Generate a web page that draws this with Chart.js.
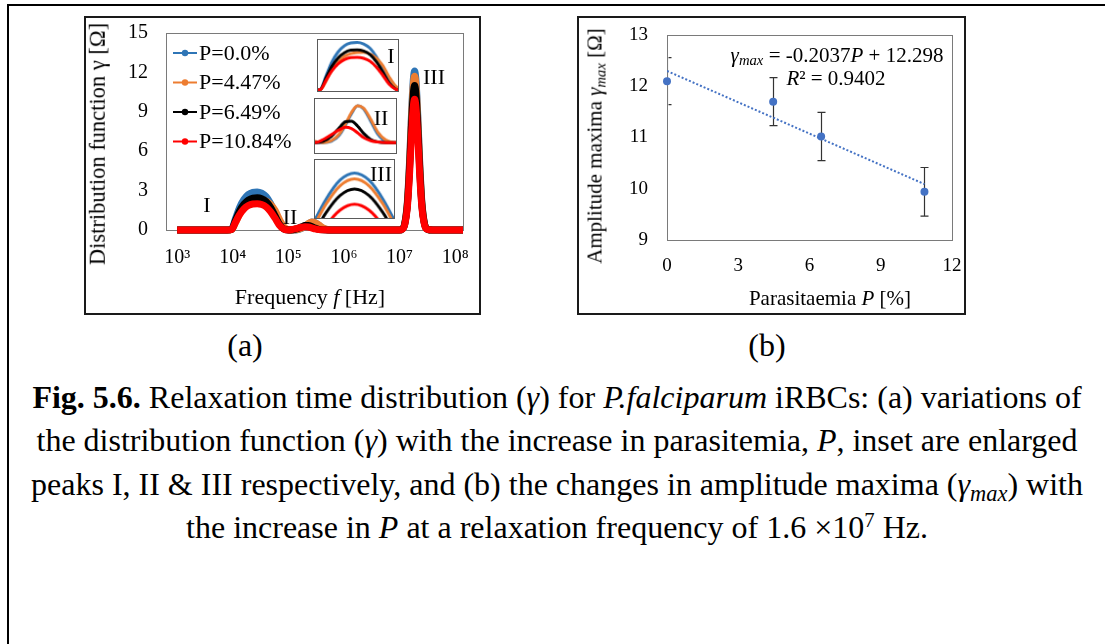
<!DOCTYPE html>
<html>
<head>
<meta charset="utf-8">
<script src="https://cdn.jsdelivr.net/npm/chart.js@4.4.0/dist/chart.umd.min.js"></script>
<style>
	html, body { margin: 0; padding: 0; background: #fff; }
	body { width: 1105px; height: 644px; position: relative; overflow: hidden; font-family: 'Liberation Serif', 'Times New Roman', serif; color: #000; }
	#frame { position: absolute; left: 7px; top: 4px; width: 1200px; height: 700px; border-top: 2px solid #000; border-left: 2px solid #000; }
	.panel { position: absolute; top: 16px; height: 299px; box-sizing: border-box; border: 2px solid #1a1a1a; }
	canvas { position: absolute; display: block; }
	.inset { box-sizing: border-box; border: 1px solid #5a5a5a; background: #fff; }
	.t { position: absolute; white-space: nowrap; line-height: 1; transform: translate(-50%, -50%); }
	.rot { transform: translate(-50%, -50%) rotate(-90deg); }
	.cap { position: absolute; left: 557px; font-size: 32px; white-space: nowrap; line-height: 1; transform: translate(-50%, -50%); }
	sub { font-size: 0.7em; vertical-align: -0.25em; line-height: 0; }
	sup { font-size: 0.65em; vertical-align: 0.55em; line-height: 0; }
</style>
</head>
<body>
<div id="frame"></div>

<div class="panel" style="left:84px; width:397px;"></div>
<div class="panel" style="left:577px; width:389px;"></div>

<canvas id="chart-a" width="393" height="295" style="left:86px; top:18px;"></canvas>
<canvas id="inset-1" class="inset" width="82" height="53" style="left:317px; top:39px;"></canvas>
<canvas id="inset-2" class="inset" width="83" height="56" style="left:314px; top:98px;"></canvas>
<canvas id="inset-3" class="inset" width="81" height="60" style="left:314px; top:159px;"></canvas>
<canvas id="chart-b" width="385" height="295" style="left:579px; top:18px;"></canvas>

<!-- panel (a) texts -->
<div class="t rot" style="left:98px; top:144px; font-size:22.5px;">Distribution function <span>γ</span> [Ω]</div>
<div class="t" style="left:310px; top:297px; font-size:22px;">Frequency <i>f</i> [Hz]</div>
<div class="t" style="left:207px; top:205px; font-size:22px;">I</div>
<div class="t" style="left:290px; top:217px; font-size:22px;">II</div>
<div class="t" style="left:434px; top:77px; font-size:22px;">III</div>
<div class="t" style="left:391px; top:56px; font-size:22px;">I</div>
<div class="t" style="left:381px; top:118px; font-size:22px;">II</div>
<div class="t" style="left:381px; top:174px; font-size:22px;">III</div>

<!-- panel (b) texts -->
<div class="t rot" style="left:595px; top:146px; font-size:21px;">Amplitude maxima <i>γ<sub>max</sub></i> [Ω]</div>
<div class="t" style="left:830px; top:298px; font-size:21px;">Parasitaemia <i>P</i> [%]</div>
<div class="t" style="left:837px; top:55px; font-size:21px;"><i>γ<sub>max</sub></i> = -0.2037<i>P</i> + 12.298</div>
<div class="t" style="left:836px; top:78px; font-size:21px;"><i>R</i>² = 0.9402</div>

<div class="t" style="left:245px; top:345px; font-size:32px;">(a)</div>
<div class="t" style="left:767px; top:345px; font-size:32px;">(b)</div>

<div class="cap" style="top:397px;"><b>Fig. 5.6.</b> Relaxation time distribution (<i>γ</i>) for <i>P.falciparum</i> iRBCs: (a) variations of</div>
<div class="cap" style="top:440px;">the distribution function (<i>γ</i>) with the increase in parasitemia, <i>P</i>, inset are enlarged</div>
<div class="cap" style="top:484px;">peaks I, II &amp; III respectively, and (b) the changes in amplitude maxima (<i>γ<sub>max</sub></i>) with</div>
<div class="cap" style="top:527px;">the increase in <i>P</i> at a relaxation frequency of 1.6 ×10<sup>7</sup> Hz.</div>

<script>
(function() {
	'use strict';

	// (a) distribution function, x = log10(frequency / Hz)
	const logFreq = [3.00, 3.50, 3.90,
		3.98, 4.05, 4.12, 4.20, 4.28, 4.36, 4.44, 4.52, 4.60, 4.68, 4.76, 4.84, 4.92,
		5.00, 5.08, 5.16, 5.24, 5.30, 5.36, 5.42, 5.48, 5.55, 5.62, 5.70, 5.80,
		6.20, 6.70, 7.00,
		7.04, 7.09, 7.14, 7.18, 7.21, 7.23, 7.25, 7.27, 7.29, 7.31, 7.33, 7.36, 7.40, 7.45, 7.50,
		7.60, 8.14];

	const gammaP0 = [0, 0, 0,
		0.06, 0.87, 1.68, 2.32, 2.70, 2.87, 2.90, 2.81, 2.55, 2.03, 1.31, 0.52, 0.09,
		0, 0, 0.02, 0.12, 0.28, 0.47, 0.60, 0.55, 0.35, 0.14, 0.02, 0,
		0, 0, 0,
		0.05, 0.45, 2.15, 5.29, 8.38, 10.27, 11.62, 12.10, 11.62, 10.27, 8.38, 5.29, 2.15, 0.45, 0.05,
		0, 0];

	const gammaP447 = [0, 0, 0,
		0.03, 0.55, 1.20, 1.70, 2.05, 2.22, 2.29, 2.30, 2.20, 1.95, 1.50, 0.80, 0.25,
		0.02, 0, 0.03, 0.14, 0.30, 0.49, 0.60, 0.56, 0.38, 0.17, 0.04, 0,
		0, 0, 0,
		0.05, 0.43, 2.08, 5.11, 8.11, 9.93, 11.23, 11.70, 11.23, 9.93, 8.11, 5.11, 2.08, 0.43, 0.05,
		0, 0];

	const gammaP649 = [0, 0, 0,
		0.05, 0.74, 1.42, 1.96, 2.28, 2.43, 2.45, 2.38, 2.16, 1.72, 1.10, 0.44, 0.07,
		0, 0.02, 0.10, 0.24, 0.34, 0.35, 0.27, 0.15, 0.05, 0.01, 0, 0,
		0, 0, 0,
		0.05, 0.41, 1.96, 4.81, 7.62, 9.34, 10.56, 11.00, 10.56, 9.34, 7.62, 4.81, 1.96, 0.41, 0.05,
		0, 0];

	const gammaP1084 = [0, 0, 0,
		0.04, 0.60, 1.16, 1.60, 1.86, 1.98, 2.00, 1.94, 1.76, 1.40, 0.90, 0.36, 0.06,
		0, 0.05, 0.13, 0.21, 0.25, 0.23, 0.16, 0.08, 0.03, 0.01, 0, 0,
		0, 0, 0,
		0.04, 0.37, 1.77, 4.35, 6.90, 8.45, 9.55, 9.95, 9.55, 8.45, 6.90, 4.35, 1.77, 0.37, 0.04,
		0, 0];

	const seriesLabels = ['P=0.0%', 'P=4.47%', 'P=6.49%', 'P=10.84%'];
	const seriesColors = ['#2e75b6', '#ed7d31', '#000000', '#ff0000'];
	const freqTicks = [3, 4, 5, 6, 7, 8];
	const freqTickLabels = ['10³', '10⁴', '10⁵', '10⁶', '10⁷', '10⁸'];
	const gammaTicks = [0, 3, 6, 9, 12, 15];

	// (b) amplitude maxima
	const parasitaemia = [0, 4.47, 6.49, 10.84];
	const gammaMax = [12.10, 11.70, 11.02, 9.94];
	const gammaMaxErr = [0.46, 0.47, 0.47, 0.475];
	const trendP = [0, 10.84];
	const trendGamma = [12.298, 10.090];

	const serif = "'Liberation Serif', 'Times New Roman', serif";
	const allSeries = [gammaP0, gammaP447, gammaP649, gammaP1084];

	function pairs(xs, ys) {
		return xs.map(function(x, i) { return { x: x, y: ys[i] }; });
	}

	// red drawn last, blue first
	function makeDatasets(width) {
		return allSeries.map(function(vals, i) {
			return {
				label: seriesLabels[i],
				data: pairs(logFreq, vals),
				borderColor: seriesColors[i],
				backgroundColor: seriesColors[i],
				borderWidth: width,
				pointRadius: 0,
				order: allSeries.length - i,
				cubicInterpolationMode: 'monotone',
				clip: width > 4 ? false : 0
			};
		});
	}

	// keep chart area where the axes say, not pushed by label halves
	function noScalePad(scale) {
		scale.paddingTop = 0;
		scale.paddingBottom = 0;
		scale.paddingLeft = 0;
		scale.paddingRight = 0;
	}

	// gray box round the plot area
	const plotBox = {
		id: 'plotBox',
		beforeDatasetsDraw: function(chart) {
			const a = chart.chartArea;
			const ctx = chart.ctx;
			ctx.save();
			ctx.strokeStyle = '#7a7a7a';
			ctx.lineWidth = 1;
			ctx.strokeRect(Math.round(a.left) + 0.5, Math.round(a.top) + 0.5, Math.round(a.right - a.left), Math.round(a.bottom - a.top));
			ctx.restore();
		}
	};

	// legend with a short line and a marker
	const lineLegend = {
		id: 'lineLegend',
		afterDraw: function(chart) {
			const ctx = chart.ctx;
			const a = chart.chartArea;
			ctx.save();
			chart.data.datasets.forEach(function(ds, i) {
				const y = a.top + 20 + i * 29.5;
				const x0 = a.left + 7;
				ctx.strokeStyle = ds.borderColor;
				ctx.fillStyle = ds.borderColor;
				ctx.lineWidth = 2;
				ctx.beginPath();
				ctx.moveTo(x0, y);
				ctx.lineTo(x0 + 24, y);
				ctx.stroke();
				ctx.beginPath();
				ctx.arc(x0 + 12, y, 3.2, 0, Math.PI * 2);
				ctx.fill();
				ctx.fillStyle = '#000';
				ctx.font = '22px ' + serif;
				ctx.textBaseline = 'middle';
				ctx.textAlign = 'left';
				ctx.fillText(ds.label, x0 + 26, y + 1);
			});
			ctx.restore();
		}
	};

	new Chart(document.getElementById('chart-a'), {
		type: 'line',
		data: { datasets: makeDatasets(7) },
		options: {
			responsive: false,
			animation: false,
			devicePixelRatio: 1,
			layout: { padding: { top: 15, right: 16, left: 0, bottom: 0 } },
			plugins: { legend: { display: false }, tooltip: { enabled: false } },
			scales: {
				x: {
					type: 'linear',
					min: 2.8,
					max: 8.14,
					grid: { display: false, drawTicks: false },
					border: { display: false },
					afterBuildTicks: function(axis) {
						axis.ticks = freqTicks.map(function(v) { return { value: v }; });
					},
					afterFit: function(scale) { scale.height = 83; noScalePad(scale); },
					ticks: {
						padding: 16,
						maxRotation: 0,
						color: '#000',
						font: { family: serif, size: 20 },
						callback: function(v) { return freqTickLabels[freqTicks.indexOf(v)]; }
					}
				},
				y: {
					min: 0,
					max: 15,
					grid: { display: false, drawTicks: false },
					border: { display: false },
					afterBuildTicks: function(axis) {
						axis.ticks = gammaTicks.map(function(v) { return { value: v }; });
					},
					afterFit: function(scale) { scale.width = 80; noScalePad(scale); },
					ticks: { padding: 18, color: '#000', font: { family: serif, size: 20 } }
				}
			}
		},
		plugins: [plotBox, lineLegend]
	});

	function makeInset(id, xMin, xMax, yMin, yMax) {
		new Chart(document.getElementById(id), {
			type: 'line',
			data: { datasets: makeDatasets(3) },
			options: {
				responsive: false,
				animation: false,
				devicePixelRatio: 1,
				layout: { padding: 0 },
				plugins: { legend: { display: false }, tooltip: { enabled: false } },
				scales: {
					x: { type: 'linear', display: false, min: xMin, max: xMax },
					y: { display: false, min: yMin, max: yMax }
				}
			}
		});
	}

	makeInset('inset-1', 3.95, 4.95, -0.05, 3.05);
	makeInset('inset-2', 5.0, 5.8, -0.17, 0.71);
	makeInset('inset-3', 7.215, 7.325, 9.0, 13.0);

	// error bars for panel (b)
	const errorBars = {
		id: 'errorBars',
		beforeDatasetsDraw: function(chart) {
			const ctx = chart.ctx;
			const a = chart.chartArea;
			const xs = chart.scales.x;
			const ys = chart.scales.y;
			ctx.save();
			ctx.beginPath();
			ctx.rect(a.left + 1.5, a.top, a.right - a.left, a.bottom - a.top);
			ctx.clip();
			ctx.strokeStyle = '#333';
			ctx.lineWidth = 1.2;
			parasitaemia.forEach(function(p, i) {
				const x = Math.round(xs.getPixelForValue(p)) + 0.5;
				const yTop = ys.getPixelForValue(gammaMax[i] + gammaMaxErr[i]);
				const yBot = ys.getPixelForValue(gammaMax[i] - gammaMaxErr[i]);
				ctx.beginPath();
				ctx.moveTo(x, yTop);
				ctx.lineTo(x, yBot);
				ctx.moveTo(x - 4, yTop);
				ctx.lineTo(x + 4, yTop);
				ctx.moveTo(x - 4, yBot);
				ctx.lineTo(x + 4, yBot);
				ctx.stroke();
			});
			ctx.restore();
		}
	};

	new Chart(document.getElementById('chart-b'), {
		type: 'line',
		data: {
			datasets: [
				{
					label: 'trend',
					data: pairs(trendP, trendGamma),
					borderColor: '#4472c4',
					borderWidth: 2,
					borderDash: [2, 2],
					pointRadius: 0
				},
				{
					label: 'gamma max',
					data: pairs(parasitaemia, gammaMax),
					showLine: false,
					pointRadius: 4,
					pointBorderWidth: 0,
					backgroundColor: '#4472c4',
					borderColor: '#4472c4',
					clip: false
				}
			]
		},
		options: {
			responsive: false,
			animation: false,
			devicePixelRatio: 1,
			layout: { padding: { top: 17, right: 12, left: 0, bottom: 0 } },
			plugins: { legend: { display: false }, tooltip: { enabled: false } },
			scales: {
				x: {
					type: 'linear',
					min: 0,
					max: 12,
					grid: { display: false, drawTicks: false },
					border: { display: false },
					afterFit: function(scale) { scale.height = 73; noScalePad(scale); },
					ticks: { stepSize: 3, padding: 15, maxRotation: 0, color: '#000', font: { family: serif, size: 19 } }
				},
				y: {
					min: 9,
					max: 13,
					grid: { display: false, drawTicks: false },
					border: { display: false },
					afterFit: function(scale) { scale.width = 88; noScalePad(scale); },
					ticks: { stepSize: 1, padding: 19, color: '#000', font: { family: serif, size: 19 } }
				}
			}
		},
		plugins: [plotBox, errorBars]
	});

})();
</script>
</body>
</html>
